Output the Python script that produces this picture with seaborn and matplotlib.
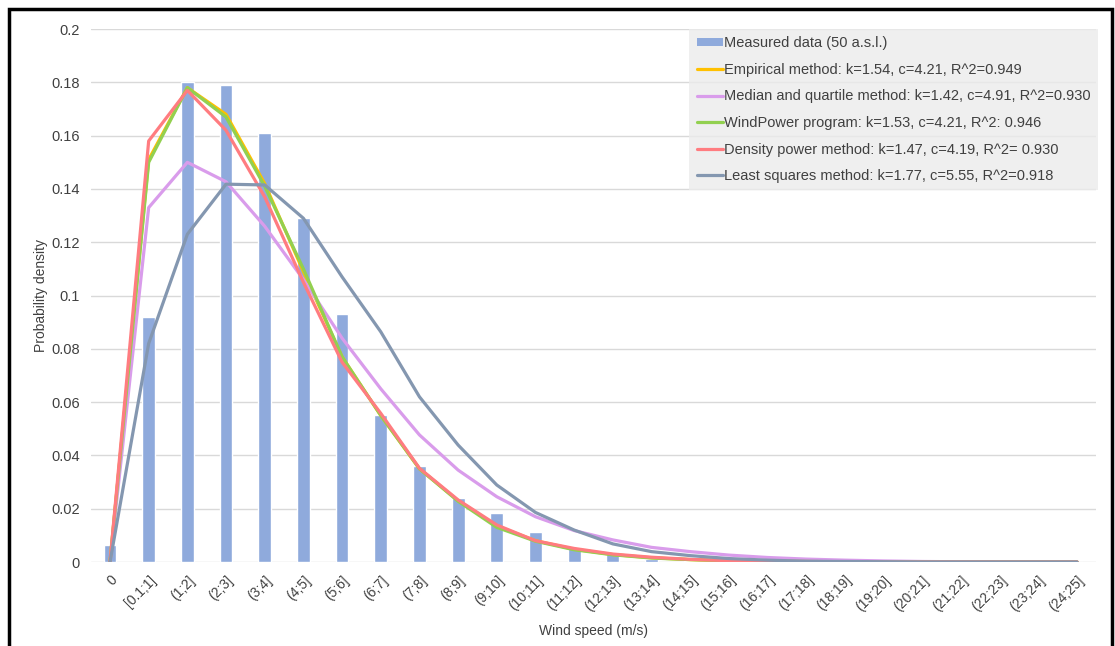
import numpy as np
import pandas as pd
import seaborn as sns
import matplotlib.pyplot as plt
from matplotlib.patches import Rectangle, Patch
from matplotlib.lines import Line2D

categories = ["0", "[0.1;1]", "(1;2]", "(2;3]", "(3;4]", "(4;5]", "(5;6]", "(6;7]",
              "(7;8]", "(8;9]", "(9;10]", "(10;11]", "(11;12]", "(12;13]", "(13;14]",
              "(14;15]", "(15;16]", "(16;17]", "(17;18]", "(18;19]", "(19;20]",
              "(20;21]", "(21;22]", "(22;23]", "(23;24]", "(24;25]"]

measured = [0.0065, 0.092, 0.180, 0.179, 0.161, 0.129, 0.093, 0.055, 0.036, 0.0242,
            0.0185, 0.0113, 0.0055, 0.0035, 0.001, 0.0004, 0.0002, 0, 0, 0, 0, 0, 0, 0, 0, 0]

empirical = [0, 0.151, 0.178, 0.168, 0.142, 0.109, 0.077, 0.055, 0.035, 0.023,
             0.0135, 0.008, 0.0048, 0.0028, 0.0016, 0.0009, 0.0005, 0.0003, 0.0002, 0.0001,
             0, 0, 0, 0, 0, 0]
median_quartile = [0, 0.133, 0.150, 0.1427, 0.126, 0.106, 0.084, 0.065, 0.0477, 0.0345,
                   0.0245, 0.017, 0.0118, 0.0083, 0.0055, 0.0039, 0.0026, 0.0017, 0.0011, 0.0007,
                   0.0004, 0.0002, 0.0001, 0, 0, 0]
windpower = [0, 0.150, 0.178, 0.167, 0.141, 0.110, 0.077, 0.055, 0.035, 0.0228,
             0.013, 0.0078, 0.0046, 0.0027, 0.0015, 0.0009, 0.0005, 0.0003, 0.0002, 0.0001,
             0, 0, 0, 0, 0, 0]
density_power = [0, 0.158, 0.177, 0.162, 0.137, 0.105, 0.075, 0.0558, 0.0352, 0.0233,
                 0.0139, 0.008, 0.0051, 0.003, 0.0018, 0.001, 0.0005, 0.0003, 0.0002, 0.0001,
                 0, 0, 0, 0, 0, 0]
least_squares = [0, 0.082, 0.123, 0.1418, 0.1415, 0.129, 0.107, 0.0864, 0.062, 0.0439,
                 0.0289, 0.0186, 0.012, 0.0068, 0.0039, 0.0024, 0.0013, 0.0007, 0.0003, 0.0002,
                 0.0001, 0, 0, 0, 0, 0]

labels = ["Measured data (50 a.s.l.)",
          "Empirical method: k=1.54, c=4.21, R^2=0.949",
          "Median and quartile method: k=1.42, c=4.91, R^2=0.930",
          "WindPower program: k=1.53, c=4.21, R^2: 0.946",
          "Density power method: k=1.47, c=4.19, R^2= 0.930",
          "Least squares method: k=1.77, c=5.55, R^2=0.918"]

bar_color = "#8FAADC"
line_colors = ["#FFC000", "#D99CEB", "#92D050", "#FF7C80", "#8497B0"]
series = [empirical, median_quartile, windpower, density_power, least_squares]

sns.set_style("white")
plt.rcParams['font.family'] = ['Liberation Sans', 'DejaVu Sans']

fig = plt.figure(figsize=(11.15, 6.46), dpi=100)
ax = fig.add_axes([0.0813, 0.130, 0.9020, 0.825])

df = pd.DataFrame({"cat": categories, "val": measured})
sns.barplot(data=df, x="cat", y="val", color=bar_color, width=0.33,
            saturation=1, ax=ax, order=categories)

for vals, col in zip(series, line_colors):
    sns.lineplot(x=categories, y=vals, color=col, linewidth=2.3, sort=False, ax=ax)

ax.set_xlim(-0.5, 25.5)
ax.set_ylim(0, 0.2)
yt = np.round(np.arange(0, 0.201, 0.02), 2)
ax.set_yticks(yt)
ax.set_yticklabels(["0" if v == 0 else f"{v:g}" for v in yt], fontsize=10.5, color="#404040")
ax.grid(axis="y", color="#D9D9D9", linewidth=1)
ax.set_axisbelow(True)
for s in ax.spines.values():
    s.set_visible(False)
ax.tick_params(axis="both", length=0)
ax.tick_params(axis="y", pad=8)
ax.set_xticks(range(len(categories)))
ax.set_xticklabels(categories, rotation=45, ha="right", rotation_mode="anchor",
                   fontsize=10, color="#404040")
ax.tick_params(axis="x", pad=8)
ax.set_xlabel("Wind speed (m/s)", fontsize=10, color="#404040", labelpad=7)
ax.set_ylabel("Probability density", fontsize=10, color="#404040", labelpad=2)

handles = [Patch(facecolor=bar_color, edgecolor="none")]
handles += [Line2D([0], [0], color=c, linewidth=2.3) for c in line_colors]
leg = ax.legend(handles, labels, loc="upper right", bbox_to_anchor=(1.002, 1.0),
                borderaxespad=0, frameon=True, fancybox=False, facecolor="#EBEBEB",
                edgecolor="#EBEBEB", fontsize=10.5, handlelength=1.8, handleheight=0.5,
                handletextpad=0.1, labelspacing=0.86, borderpad=0.5)
for t in leg.get_texts():
    t.set_color("#404040")
leg.get_frame().set_linewidth(0)

fig.patches.append(Rectangle((9 / 1115, -0.05), (1112 - 9) / 1115, 1 - 8.5 / 646 + 0.05,
                             transform=fig.transFigure, fill=False, edgecolor="black",
                             linewidth=2.5))

fig.savefig("out.png", dpi=100)
